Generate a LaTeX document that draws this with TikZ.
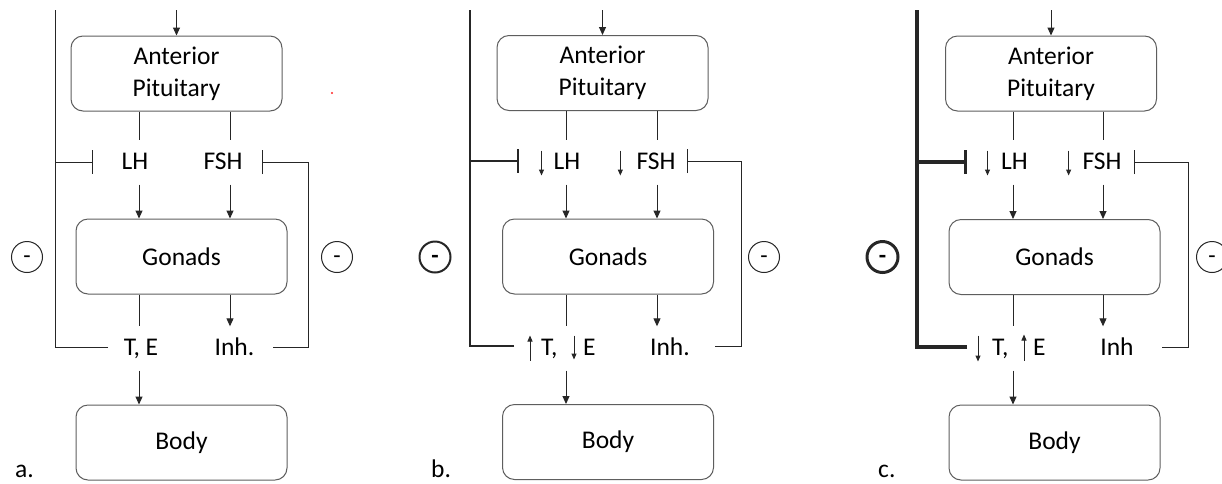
\documentclass[tikz,border=0pt]{standalone}
\usepackage{fontspec}
\setmainfont{Carlito}
\usetikzlibrary{arrows.meta}
\definecolor{inkc}{HTML}{000000}
\definecolor{linec}{HTML}{262626}
\definecolor{boxc}{HTML}{5E5E5E}
\begin{document}
\begin{tikzpicture}[x=1pt,y=-1pt,
  every node/.style={text=inkc},
  box/.style={draw=boxc, line width=1pt, rounded corners=12pt,
    minimum width=211pt, minimum height=75pt, inner sep=0pt, align=center,
    font=\fontsize{25.5}{32}\selectfont},
  lbl/.style={inner sep=0pt, minimum height=44pt, text height=17pt, text depth=4pt,
    font=\fontsize{25.5}{30}\selectfont},
  tag/.style={inner sep=0pt, font=\fontsize{25.5}{30}\selectfont},
  conn/.style={draw=linec, line width=1pt},
  arr/.style={conn, -{Triangle[length=8pt,width=7pt]}},
  small/.style={conn, -{Triangle[length=6pt,width=5pt]}},
  inh/.style={-{Bar[width=24pt]}},
  heavyb/.style={line width=2.3pt},
  heavyc/.style={line width=3.3pt},
  sign/.style={circle, draw=linec, line width=1pt, minimum size=31pt, inner sep=0pt,
    text height=13pt, text depth=0pt, font=\fontsize{24}{24}\selectfont},
]
\useasboundingbox (0,0) rectangle (1222,483);
\fill[white] (0,0) rectangle (1222,483);

% ---------------- a. ----------------
\coordinate (a-top) at (55,10);
\coordinate (a-in) at (176.5,10);
\node[box] (a-AP) at (176.5,73.5) {Anterior\\Pituitary};
\node[box] (a-G) at (181.5,256.5) {Gonads};
\node[box] (a-B) at (181.5,442.5) {Body};
\coordinate (a-c1) at (139,0);
\coordinate (a-c2) at (230,0);
\node[lbl] (a-LH) at (135,162.5) {LH};
\node[lbl] (a-FSH) at (223,162.5) {FSH};
\node[lbl] (a-TE) at (141,348.5) {T, E};
\node[lbl] (a-Inh) at (234.5,348.5) {Inh.};
\draw[arr] (a-in) -- (a-AP);
\draw[conn] (a-AP.south -| a-c1) -- (a-LH.north -| a-c1);
\draw[conn] (a-AP.south -| a-c2) -- (a-FSH.north -| a-c2);
\draw[arr] (a-LH.south -| a-c1) -- (a-G.north -| a-c1);
\draw[arr] (a-FSH.south -| a-c2) -- (a-G.north -| a-c2);
\draw[conn] (a-G.south -| a-c1) -- (a-TE.north -| a-c1);
\draw[arr] (a-G.south -| a-c2) -- (a-Inh.north -| a-c2);
\draw[arr] (a-TE.south -| a-c1) -- (a-B.north -| a-c1);
\coordinate (a-fbL) at (108,347);
\coordinate (a-barL) at (93,162);
\coordinate (a-fbR) at (273,347);
\coordinate (a-cR) at (308,162);
\coordinate (a-barR) at (262,162);
\draw[conn] (a-fbL) -| (a-top);
\draw[conn, inh] (a-top |- a-barL) -- (a-barL);
\draw[conn, inh] (a-fbR) -| (a-cR) -- (a-barR);
\node[sign] (a-m1) at (27,257) {-};
\node[sign] (a-m2) at (337,257) {-};
\node[tag, anchor=base west] (a-tag) at (15,477) {a.};
\fill[red!85] (332,93) circle (1.2pt);

% ---------------- b. ----------------
\coordinate (b-top) at (470,10);
\coordinate (b-in) at (602.5,10);
\node[box] (b-AP) at (602.5,73) {Anterior\\Pituitary};
\node[box] (b-G) at (608,256.5) {Gonads};
\node[box] (b-B) at (608,442) {Body};
\coordinate (b-c1) at (566,0);
\coordinate (b-c2) at (657,0);
\node[lbl] (b-LH) at (567,162.5) {LH};
\node[lbl] (b-FSH) at (656,162.5) {FSH};
\node[lbl, anchor=west] (b-T) at (541,348.5) {T,};
\node[lbl, anchor=west] (b-E) at (583,348.5) {E};
\node[lbl] (b-Inh) at (670,348.5) {Inh.};
\draw[small] (b-LH.west) ++(-12,-12) -- ++(0,25);
\draw[small] (b-FSH.west) ++(-16,-12) -- ++(0,25);
\draw[small] (b-T.west) ++(-11,12) -- ++(0,-25);
\draw[small] (b-E.west) ++(-9,-13) -- ++(0,24);
\draw[arr] (b-in) -- (b-AP);
\draw[conn] (b-AP.south -| b-c1) -- (b-LH.north -| b-c1);
\draw[conn] (b-AP.south -| b-c2) -- (b-FSH.north -| b-c2);
\draw[arr] (b-LH.south -| b-c1) -- (b-G.north -| b-c1);
\draw[arr] (b-FSH.south -| b-c2) -- (b-G.north -| b-c2);
\draw[conn] (b-G.south -| b-c1) -- (b-T.north -| b-c1);
\draw[arr] (b-G.south -| b-c2) -- (b-Inh.north -| b-c2);
\draw[arr] (b-T.south -| b-c1) -- (b-B.north -| b-c1);
\coordinate (b-fbL) at (514,346);
\coordinate (b-barL) at (519,161);
\coordinate (b-fbR) at (715,346);
\coordinate (b-cR) at (741,161);
\coordinate (b-barR) at (687,161);
\draw[conn, heavyb] (b-fbL) -| (b-top);
\draw[conn, heavyb, inh] (b-top |- b-barL) -- (b-barL);
\draw[conn, inh] (b-fbR) -| (b-cR) -- (b-barR);
\node[sign, line width=2pt] (b-m1) at (435,257) {\textbf{-}};
\node[sign] (b-m2) at (764,257) {-};
\node[tag, anchor=base west] (b-tag) at (431,477) {b.};

% ---------------- c. ----------------
\coordinate (c-top) at (917,10);
\coordinate (c-in) at (1051,10);
\node[box] (c-AP) at (1051,73.5) {Anterior\\Pituitary};
\node[box] (c-G) at (1054.5,257) {Gonads};
\node[box] (c-B) at (1054.5,442.5) {Body};
\coordinate (c-c1) at (1013,0);
\coordinate (c-c2) at (1103,0);
\node[lbl] (c-LH) at (1014.5,162.5) {LH};
\node[lbl] (c-FSH) at (1102,162.5) {FSH};
\node[lbl, anchor=west] (c-T) at (992,348.5) {T,};
\node[lbl, anchor=west] (c-E) at (1033,348.5) {E};
\node[lbl] (c-Inh) at (1117,348.5) {Inh};
\draw[small] (c-LH.west) ++(-13.5,-12) -- ++(0,25);
\draw[small] (c-FSH.west) ++(-13.7,-12) -- ++(0,25);
\draw[small] (c-T.west) ++(-14,-13) -- ++(0,26);
\draw[small] (c-E.west) ++(-9,12) -- ++(0,-26);
\draw[arr] (c-in) -- (c-AP);
\draw[conn] (c-AP.south -| c-c1) -- (c-LH.north -| c-c1);
\draw[conn] (c-AP.south -| c-c2) -- (c-FSH.north -| c-c2);
\draw[arr] (c-LH.south -| c-c1) -- (c-G.north -| c-c1);
\draw[arr] (c-FSH.south -| c-c2) -- (c-G.north -| c-c2);
\draw[conn] (c-G.south -| c-c1) -- (c-T.north -| c-c1);
\draw[arr] (c-G.south -| c-c2) -- (c-Inh.north -| c-c2);
\draw[arr] (c-T.south -| c-c1) -- (c-B.north -| c-c1);
\coordinate (c-fbL) at (967,347);
\coordinate (c-barL) at (967,162);
\coordinate (c-fbR) at (1162,347);
\coordinate (c-cR) at (1188,162);
\coordinate (c-barR) at (1134,162);
\draw[conn, heavyc] (c-fbL) -| (c-top);
\draw[conn, heavyc, inh] (c-top |- c-barL) -- (c-barL);
\draw[conn, inh] (c-fbR) -| (c-cR) -- (c-barR);
\node[sign, line width=3pt] (c-m1) at (882.5,257) {\textbf{-}};
\node[sign] (c-m2) at (1212,257) {-};
\node[tag, anchor=base west] (c-tag) at (878,477) {c.};
\end{tikzpicture}
\end{document}
